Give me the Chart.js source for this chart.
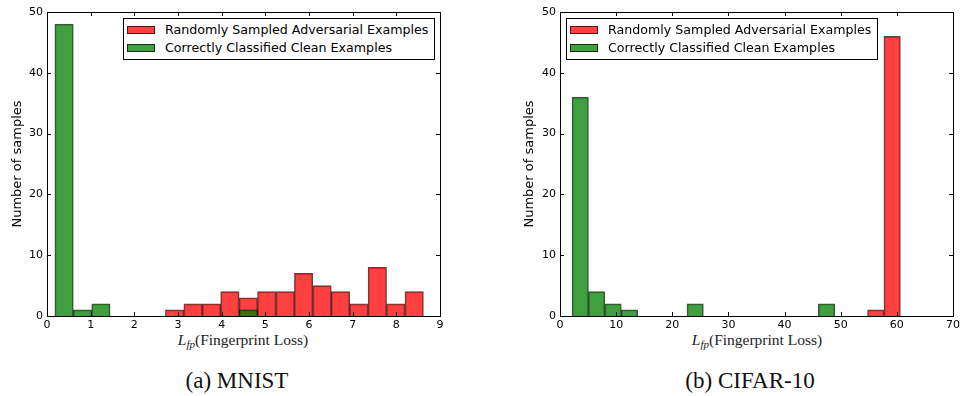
<!DOCTYPE html>
<html>
<head>
<meta charset="utf-8">
<script src="https://cdn.jsdelivr.net/npm/chart.js@4.4.0/dist/chart.umd.min.js"></script>
<style>
body { margin:0; background:#fff; width:963px; height:396px; position:relative; overflow:hidden; font-family:"DejaVu Sans", sans-serif; }
canvas { position:absolute; top:0; }
.legend { position:absolute; top:18px; height:42px; border:1px solid #000; background:#fff; box-sizing:border-box; font-size:12.65px; color:#000; }
.legend .row { position:absolute; left:3px; height:18px; line-height:18px; white-space:nowrap; }
.legend .sw { display:inline-block; width:28px; height:8px; box-sizing:border-box; border:1px solid rgba(0,0,0,0.7); vertical-align:middle; margin-right:10px; position:relative; top:-1px; }
.xlabel { position:absolute; top:331px; font-family:"Liberation Serif", serif; font-size:15.5px; transform:translateX(-50%); white-space:nowrap; color:#222; }
.xlabel sub { font-size:11px; vertical-align:-3px; line-height:0; }
.caption { position:absolute; top:368px; font-family:"Liberation Serif", serif; font-size:23px; line-height:1.107; transform:translateX(-50%); white-space:nowrap; color:#111; }
</style>
</head>
<body>
<canvas id="mnist" width="480" height="330" style="left:0"></canvas>
<canvas id="cifar" width="483" height="330" style="left:480px"></canvas>
<div class="legend" id="legMnist" style="left:123px;width:312px"></div>
<div class="legend" id="legCifar" style="left:566px;width:312px"></div>
<div class="xlabel" style="left:243px"><i>L</i><sub><i>fp</i></sub>(Fingerprint Loss)</div>
<div class="xlabel" style="left:757px"><i>L</i><sub><i>fp</i></sub>(Fingerprint Loss)</div>
<div class="caption" style="left:237px">(a) MNIST</div>
<div class="caption" style="left:750px">(b) CIFAR-10</div>
<script>
// histogram bin centres (20 bins each)
const mnistBins = [0.391, 0.813, 1.235, 1.657, 2.079, 2.501, 2.923, 3.345, 3.767, 4.189,
                   4.611, 5.033, 5.455, 5.877, 6.299, 6.721, 7.143, 7.565, 7.987, 8.409];
const mnistAdv   = [0, 0, 0, 0, 0, 0, 1, 2, 2, 4, 3, 4, 4, 7, 5, 4, 2, 8, 2, 4];
const mnistClean = [48, 1, 2, 0, 0, 0, 0, 0, 0, 0, 1, 0, 0, 0, 0, 0, 0, 0, 0, 0];

const cifarBins = [3.602, 6.527, 9.451, 12.376, 15.300, 18.225, 21.149, 24.074, 26.998, 29.923,
                   32.847, 35.772, 38.696, 41.621, 44.545, 47.470, 50.394, 53.319, 56.243, 59.168];
const cifarAdv   = [0, 0, 0, 0, 0, 0, 0, 0, 0, 0, 0, 0, 0, 0, 0, 0, 0, 0, 1, 46];
const cifarClean = [36, 4, 2, 1, 0, 0, 0, 2, 0, 0, 0, 0, 0, 0, 0, 2, 0, 0, 0, 0];

const seriesNames = ['Randomly Sampled Adversarial Examples', 'Correctly Classified Clean Examples'];
const seriesColors = ['rgba(255,0,0,0.75)', 'rgba(0,128,0,0.75)'];
const yTicks = [0, 10, 20, 30, 40, 50];
const mnistXTicks = [0, 1, 2, 3, 4, 5, 6, 7, 8, 9];
const cifarXTicks = [0, 10, 20, 30, 40, 50, 60, 70];

const tickFont = { family: 'DejaVu Sans', size: 11 };

// matplotlib-style box with inward ticks on all four sides
const framePlugin = {
  id: 'frame',
  afterDatasetsDraw(chart) {
    const { ctx, chartArea: a, scales } = chart;
    ctx.save();
    ctx.strokeStyle = '#000';
    ctx.lineWidth = 1;
    ctx.beginPath();
    scales.x.ticks.forEach(t => {
      const px = Math.round(scales.x.getPixelForValue(t.value)) + 0.5;
      ctx.moveTo(px, a.bottom); ctx.lineTo(px, a.bottom - 4);
      ctx.moveTo(px, a.top); ctx.lineTo(px, a.top + 4);
    });
    scales.y.ticks.forEach(t => {
      const py = Math.round(scales.y.getPixelForValue(t.value)) + 0.5;
      ctx.moveTo(a.left, py); ctx.lineTo(a.left + 4, py);
      ctx.moveTo(a.right, py); ctx.lineTo(a.right - 4, py);
    });
    ctx.stroke();
    ctx.strokeRect(Math.round(a.left) + 0.5, Math.round(a.top) + 0.5,
                   Math.round(a.right - a.left), Math.round(a.bottom - a.top));
    ctx.restore();
  }
};

function makeChart(id, bins, adv, clean, xTicks, yWidth, rightPad, titlePad) {
  const xMin = xTicks[0], xMax = xTicks[xTicks.length - 1];
  const step = xTicks[1] - xTicks[0];
  return new Chart(document.getElementById(id), {
    type: 'bar',
    data: {
      datasets: [
        { label: seriesNames[0], data: bins.map((b, i) => ({ x: b, y: adv[i] })),
          backgroundColor: seriesColors[0], borderColor: 'rgba(0,0,0,0.7)', borderWidth: 1, order: 1 },
        { label: seriesNames[1], data: bins.map((b, i) => ({ x: b, y: clean[i] })),
          backgroundColor: seriesColors[1], borderColor: 'rgba(0,0,0,0.7)', borderWidth: 1, order: 0 }
      ]
    },
    options: {
      responsive: false,
      animation: false,
      grouped: false,
      barPercentage: 1,
      categoryPercentage: 1,
      layout: { padding: { top: 12, right: rightPad, left: 0, bottom: 0 } },
      plugins: { legend: { display: false }, tooltip: { enabled: false } },
      scales: {
        x: {
          type: 'linear', min: xMin, max: xMax, offset: false,
          afterFit: s => { s.height = 14; },
          grid: { display: false, drawTicks: false },
          border: { display: false },
          ticks: { stepSize: step, autoSkip: false, padding: 3, font: tickFont, color: '#000', maxRotation: 0 }
        },
        y: {
          min: yTicks[0], max: yTicks[yTicks.length - 1],
          afterFit: s => { s.width = yWidth; },
          grid: { display: false, drawTicks: false },
          border: { display: false },
          ticks: { stepSize: yTicks[1] - yTicks[0], padding: 4, font: tickFont, color: '#000' },
          title: { display: true, text: 'Number of samples', color: '#000',
                   font: { family: 'DejaVu Sans', size: 13 }, padding: { top: titlePad, bottom: 0 } }
        }
      }
    },
    plugins: [framePlugin]
  });
}

function makeLegend(id) {
  const box = document.getElementById(id);
  seriesNames.forEach((name, i) => {
    const row = document.createElement('div');
    row.className = 'row';
    row.style.top = (2 + i * 18) + 'px';
    const sw = document.createElement('span');
    sw.className = 'sw';
    sw.style.background = seriesColors[i];
    row.appendChild(sw);
    row.appendChild(document.createTextNode(name));
    box.appendChild(row);
  });
}

makeChart('mnist', mnistBins, mnistAdv, mnistClean, mnistXTicks, 47, 40, 10);
makeChart('cifar', cifarBins, cifarAdv, cifarClean, cifarXTicks, 80, 10, 42);
makeLegend('legMnist');
makeLegend('legCifar');
</script>
</body>
</html>
